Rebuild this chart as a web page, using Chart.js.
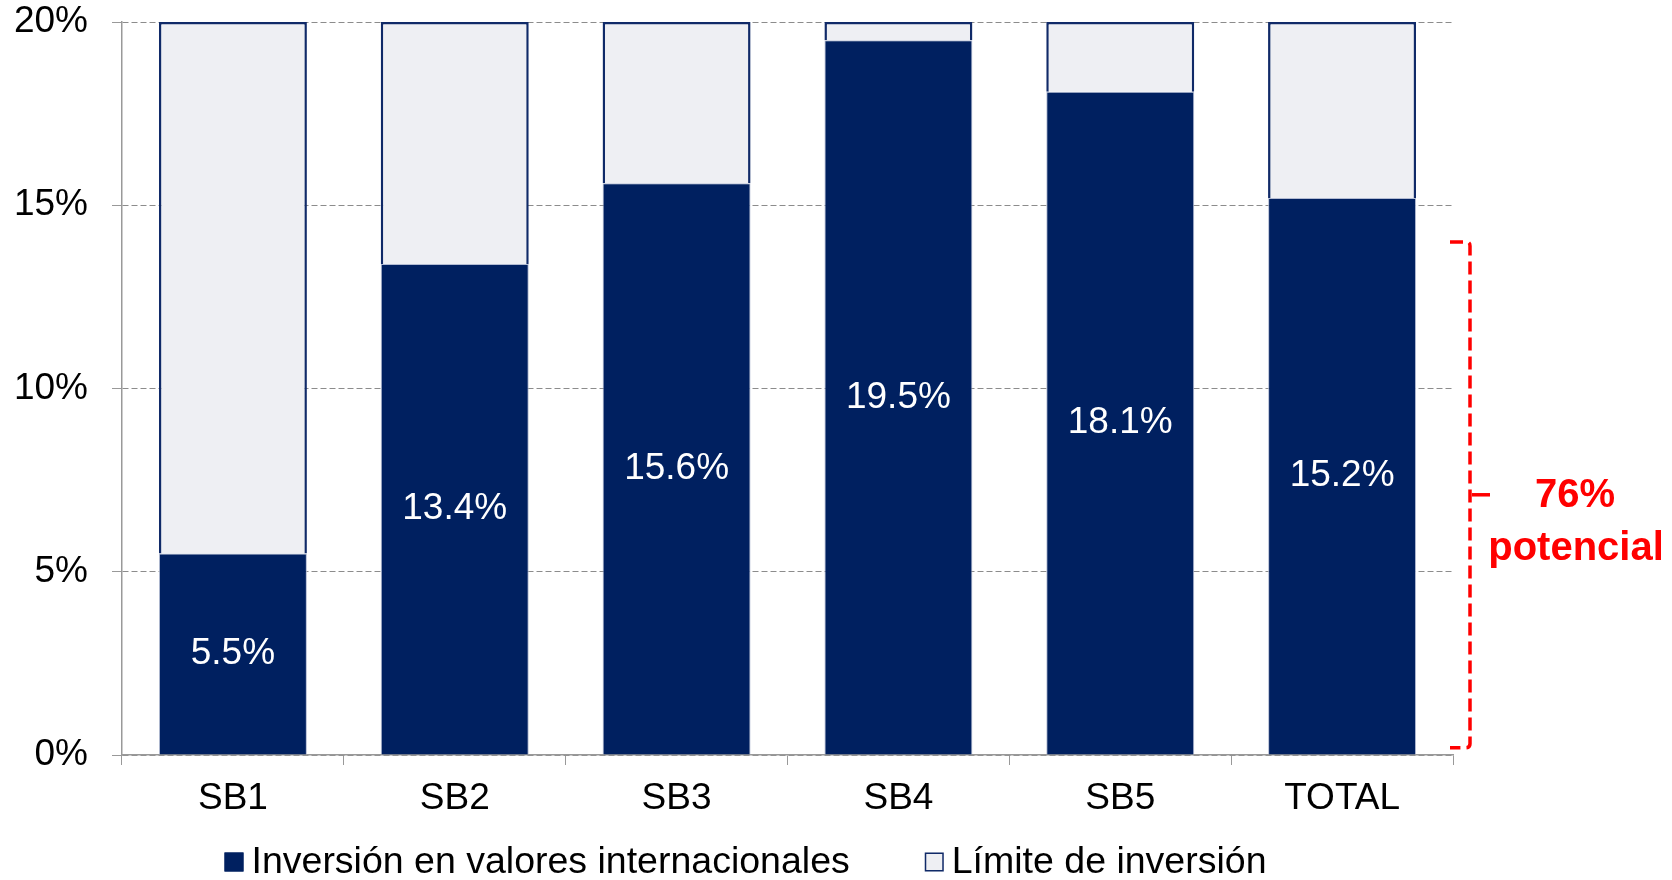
<!DOCTYPE html>
<html>
<head>
<meta charset="utf-8">
<script src="https://cdn.jsdelivr.net/npm/chart.js@4"></script>
<style>
  html, body { margin: 0; padding: 0; background: #fff; }
  #wrap { width: 1672px; height: 880px; }
</style>
</head>
<body>
<div id="wrap"><canvas id="invChart" width="1672" height="880"></canvas></div>
<script>
const categories = ["SB1", "SB2", "SB3", "SB4", "SB5", "TOTAL"];
const investment = [5.5, 13.4, 15.6, 19.5, 18.1, 15.2];
const limitValue = 20;
const remaining = [14.5, 6.6, 4.4, 0.5, 1.9, 4.8];
const yTicks = [0, 5, 10, 15, 20];
const bracketRange = [0.2, 14];
const seriesNames = ["Inversión en valores internacionales", "Límite de inversión"];

const FONT = "'Liberation Sans', Arial, sans-serif";
const NAVY = "#002060";
const LIGHT = "#EEEFF3";

// white % labels in the middle of the dark bars
const barLabels = {
  id: "barLabels",
  afterDatasetsDraw(chart) {
    const ctx = chart.ctx;
    const meta = chart.getDatasetMeta(0);
    ctx.save();
    ctx.fillStyle = "#fff";
    ctx.font = "37px " + FONT;
    ctx.textAlign = "center";
    ctx.textBaseline = "middle";
    meta.data.forEach((bar, i) => {
      const y = (bar.y + bar.base) / 2;
      ctx.fillText(investment[i].toFixed(1) + "%", bar.x, y);
    });
    ctx.restore();
  },
};

// legend drawn by hand so the spacing matches the original
const bottomLegend = {
  id: "bottomLegend",
  afterDraw(chart) {
    const ctx = chart.ctx;
    const area = chart.chartArea;
    const box = 19, gap = 8, itemGap = 75;
    const y = 862;
    ctx.save();
    ctx.font = "37.5px " + FONT;
    ctx.textBaseline = "middle";
    const items = chart.data.datasets.map((ds) => ({
      ds,
      w: box + gap + ctx.measureText(ds.label).width,
    }));
    const total = items.reduce((s, it) => s + it.w, 0) + itemGap * (items.length - 1);
    let x = (area.left + area.right) / 2 - 42 - total / 2;
    items.forEach((it) => {
      ctx.fillStyle = it.ds.backgroundColor;
      ctx.fillRect(x, y - box / 2, box, box);
      ctx.strokeStyle = it.ds.legendBorder;
      ctx.lineWidth = 1.5;
      ctx.strokeRect(x + 0.75, y - box / 2 + 0.75, box - 1.5, box - 1.5);
      ctx.fillStyle = "#000";
      ctx.fillText(it.ds.label, x + box + gap, y + 1);
      x += it.w + itemGap;
    });
    ctx.restore();
  },
};

// red dashed bracket + "76% potencial" note on the right
const potentialNote = {
  id: "potentialNote",
  afterDraw(chart) {
    const ctx = chart.ctx;
    const y = chart.scales.y;
    const area = chart.chartArea;
    const x = area.right + 17;
    const top = y.getPixelForValue(bracketRange[1]);
    const bottom = y.getPixelForValue(bracketRange[0]);
    const mid = (top + bottom) / 2;
    const total = investment[investment.length - 1];
    ctx.save();
    ctx.strokeStyle = "#FF0000";
    ctx.lineWidth = 3.5;
    ctx.setLineDash([13, 6]);
    ctx.beginPath();
    ctx.moveTo(x - 20, top);
    ctx.lineTo(x - 4, top);
    ctx.quadraticCurveTo(x, top, x, top + 4);
    ctx.lineTo(x, bottom - 4);
    ctx.quadraticCurveTo(x, bottom, x - 4, bottom);
    ctx.lineTo(x - 20, bottom);
    ctx.stroke();
    ctx.setLineDash([]);
    ctx.beginPath();
    ctx.moveTo(x + 2, mid);
    ctx.lineTo(x + 20, mid);
    ctx.stroke();
    ctx.fillStyle = "#FF0000";
    ctx.font = "bold 40px " + FONT;
    ctx.textAlign = "center";
    ctx.textBaseline = "middle";
    ctx.fillText(Math.round(total / limitValue * 100) + "%", area.right + 122, mid + 1);
    ctx.fillText("potencial", area.right + 123, mid + 54);
    ctx.restore();
  },
};

new Chart(document.getElementById("invChart"), {
  type: "bar",
  data: {
    labels: categories,
    datasets: [
      {
        label: seriesNames[0],
        data: investment,
        backgroundColor: NAVY,
        borderColor: "rgba(170,180,205,0.9)",
        legendBorder: NAVY,
        borderWidth: 1,
        barPercentage: 0.667,
        categoryPercentage: 1,
      },
      {
        label: seriesNames[1],
        data: remaining,
        backgroundColor: LIGHT,
        borderColor: "#102a68",
        legendBorder: "#102a68",
        borderWidth: 2.5,
        barPercentage: 0.667,
        categoryPercentage: 1,
      },
    ],
  },
  options: {
    responsive: false,
    animation: false,
    layout: {
      padding: { left: 15, right: 219, top: 0, bottom: 51 },
    },
    plugins: {
      legend: { display: false },
      tooltip: { enabled: false },
    },
    scales: {
      x: {
        stacked: true,
        grid: {
          display: true,
          drawOnChartArea: false,
          drawTicks: true,
          tickLength: 10,
          color: "#999",
        },
        border: { display: true, color: "#999", width: 1.5 },
        ticks: {
          color: "#000",
          font: { family: FONT, size: 37 },
          padding: 12,
        },
        afterFit: (scale) => {
          scale.height = 74;
        },
      },
      y: {
        stacked: true,
        min: 0,
        max: limitValue,
        afterBuildTicks: (scale) => {
          scale.ticks = yTicks.map((v) => ({ value: v }));
        },
        afterFit: (scale) => {
          scale.width = 107;
          scale.paddingTop = 22;
        },
        grid: {
          color: "#8c8c8c",
          lineWidth: 1,
          tickLength: 10,
          tickColor: "#999",
          tickBorderDash: [],
        },
        border: { display: true, color: "#999", width: 1.5, dash: [6, 3] },
        ticks: {
          color: "#000",
          font: { family: FONT, size: 37 },
          padding: 24,
          callback: (v) => v + "%",
        },
      },
    },
  },
  plugins: [barLabels, bottomLegend, potentialNote],
});
</script>
</body>
</html>
